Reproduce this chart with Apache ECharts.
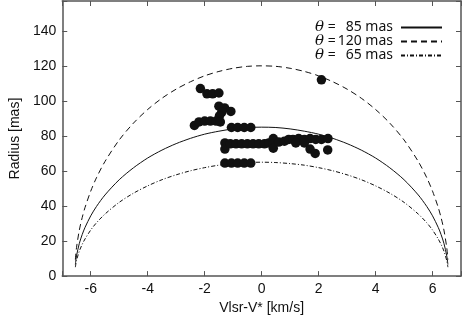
<!DOCTYPE html>
<html>
<head>
<meta charset="utf-8">
<script src="https://cdn.jsdelivr.net/npm/echarts@6/dist/echarts.min.js"></script>
<style>
html,body{margin:0;padding:0;background:#fff;}
#chart{width:464px;height:320px;}
</style>
</head>
<body>
<div id="chart"></div>
<script>
// model curves, velocity samples (km/s)
var curveV = [-6.54, -6.5, -6.4, -6.3, -6.2, -6.0, -5.8, -5.5, -5.0, -4.5, -4.0, -3.5, -3.0, -2.5, -2.0, -1.5, -1.0, -0.5, 0,
              0.5, 1.0, 1.5, 2.0, 2.5, 3.0, 3.5, 4.0, 4.5, 5.0, 5.5, 5.8, 6.0, 6.2, 6.3, 6.4, 6.5, 6.54];
// radius for theta = 85 / 120 / 65 mas
var r85 = [6.6, 11.5, 18.7, 23.7, 27.8, 34.4, 39.7, 46.3, 55.0, 61.8, 67.4, 71.9, 75.6, 78.6, 81.0, 82.7, 84.0, 84.8, 85,
           84.8, 84.0, 82.7, 81.0, 78.6, 75.6, 71.9, 67.4, 61.8, 55.0, 46.3, 39.7, 34.4, 27.8, 23.7, 18.7, 11.5, 6.6];
var r120 = [9.4, 16.2, 26.3, 33.4, 39.2, 48.5, 56.1, 65.4, 77.7, 87.3, 95.1, 101.5, 106.7, 110.9, 114.3, 116.8, 118.6, 119.7, 120,
            119.7, 118.6, 116.8, 114.3, 110.9, 106.7, 101.5, 95.1, 87.3, 77.7, 65.4, 56.1, 48.5, 39.2, 33.4, 26.3, 16.2, 9.4];
var r65 = [5.1, 8.8, 14.3, 18.1, 21.2, 26.3, 30.4, 35.4, 42.1, 47.3, 51.5, 55.0, 57.8, 60.1, 61.9, 63.3, 64.2, 64.8, 65,
           64.8, 64.2, 63.3, 61.9, 60.1, 57.8, 55.0, 51.5, 47.3, 42.1, 35.4, 30.4, 26.3, 21.2, 18.1, 14.3, 8.8, 5.1];

// observed spots [Vlsr-V*, radius]
var spotV = [-2.15, -1.92, -1.72, -1.5,
             -1.5, -1.3, -1.08, -1.4, -1.48,
             -2.36, -2.2, -2.0, -1.8, -1.6, -1.45,
             -1.06, -0.84, -0.61, -0.38,
             -1.29, -1.29, -1.1, -0.9, -0.7, -0.5, -0.3, -0.1, 0.1, 0.25, 0.41, 0.41, 0.41,
             0.6, 0.8, 0.95, 1.1, 1.3, 1.5, 1.7, 1.9, 2.1, 2.33, 1.2, 1.5,
             1.7, 1.88, 2.32,
             -1.29, -1.06, -0.84, -0.61, -0.38,
             2.1];
var spotR = [107, 104, 104, 104.5,
             97, 96, 94, 93.5, 91.5,
             86, 88, 88.5, 88.5, 88.5, 88,
             84.8, 84.8, 84.8, 84.8,
             76, 72.5, 75.5, 75.5, 75.5, 75.5, 75.5, 75.5, 75.5, 76, 78.5, 75.5, 73,
             76.5, 77, 78, 78, 78.5, 78, 78.5, 78, 78, 78.5, 76, 76,
             72.5, 70, 72,
             64.5, 64.5, 64.5, 64.5, 64.5,
             112];

var thetas = [85, 120, 65];
var names = ['theta85', 'theta120', 'theta65'];
var xTicks = [-6, -4, -2, 0, 2, 4, 6];

function pairs(xs, ys) {
    var out = [];
    for (var i = 0; i < xs.length; i++) out.push([xs[i], ys[i]]);
    return out;
}

var axisCol = '#555';
var txtFont = 'Liberation Sans';

var chart = echarts.init(document.getElementById('chart'));

var baseX = {
    type: 'value',
    min: -7,
    max: 7,
    splitNumber: 7,
    axisLine: {show: true, onZero: false, lineStyle: {color: axisCol, width: 1.5}},
    axisTick: {show: true, inside: true, length: 5, lineStyle: {color: axisCol, width: 1}},
    splitLine: {show: false}
};
var baseY = {
    type: 'value',
    min: 0,
    max: 157,
    interval: 20,
    axisLine: {show: true, onZero: false, lineStyle: {color: axisCol, width: 1.5}},
    axisTick: {show: true, inside: true, length: 5, lineStyle: {color: axisCol, width: 1}},
    splitLine: {show: false}
};

var option = {
    animation: false,
    backgroundColor: '#fff',
    grid: {left: 53, right: 2, top: 1, bottom: 43},
    legend: {
        orient: 'vertical',
        right: 16,
        top: 15,
        align: 'right',
        itemWidth: 41,
        itemHeight: 12,
        itemGap: -1,
        data: names,
        itemStyle: {opacity: 0},
        formatter: function (name) {
            var i = names.indexOf(name);
            return '{t|θ}{e| =}{n|' + thetas[i] + '}{m| mas}{s|}';
        },
        textStyle: {
            color: '#111',
            rich: {
                t: {fontFamily: 'DejaVu Serif', fontStyle: 'italic', fontSize: 15, lineHeight: 13, color: '#111'},
                e: {fontFamily: 'Noto Sans', fontSize: 14, lineHeight: 13, color: '#111'},
                n: {fontFamily: 'Noto Sans', fontSize: 14, lineHeight: 13, color: '#111', width: 26, align: 'right'},
                m: {fontFamily: 'Noto Sans', fontSize: 14, lineHeight: 13, color: '#111'},
                s: {width: 3, lineHeight: 13}
            }
        }
    },
    xAxis: [
        echarts.util.merge({
            position: 'bottom',
            name: 'Vlsr-V* [km/s]',
            nameLocation: 'middle',
            nameGap: 24,
            nameTextStyle: {fontFamily: txtFont, fontSize: 14, color: '#111'},
            axisLabel: {
                margin: 6,
                fontFamily: txtFont,
                fontSize: 14,
                color: '#111',
                formatter: function (v) { return xTicks.indexOf(v) >= 0 ? String(v) : ''; }
            }
        }, baseX, true),
        echarts.util.merge({position: 'top', axisLabel: {show: false}}, baseX, true)
    ],
    yAxis: [
        echarts.util.merge({
            position: 'left',
            name: 'Radius [mas]',
            nameLocation: 'middle',
            nameGap: 40,
            nameTextStyle: {fontFamily: txtFont, fontSize: 14, color: '#111'},
            axisLabel: {
                margin: 6,
                fontFamily: txtFont,
                fontSize: 14,
                color: '#111',
                formatter: function (v) { return v % 20 === 0 ? String(v) : ''; }
            }
        }, baseY, true),
        echarts.util.merge({position: 'right', axisLabel: {show: false}}, baseY, true)
    ],
    series: [
        {
            name: names[0], type: 'line', smooth: 0.3, symbol: 'none',
            data: pairs(curveV, r85),
            lineStyle: {color: '#111', width: 1, type: 'solid'}, z: 2
        },
        {
            name: names[1], type: 'line', smooth: 0.3, symbol: 'none',
            data: pairs(curveV, r120),
            lineStyle: {color: '#111', width: 1, type: [6, 4]}, z: 2
        },
        {
            name: names[2], type: 'line', smooth: 0.3, symbol: 'none',
            data: pairs(curveV, r65),
            lineStyle: {color: '#111', width: 1, type: [4, 2, 1, 2]}, z: 2
        },
        {
            name: 'spots', type: 'scatter', symbol: 'circle', symbolSize: 9.5,
            data: pairs(spotV, spotR),
            itemStyle: {color: '#111', opacity: 1}, z: 5
        }
    ]
};
chart.setOption(option);
</script>
</body>
</html>
